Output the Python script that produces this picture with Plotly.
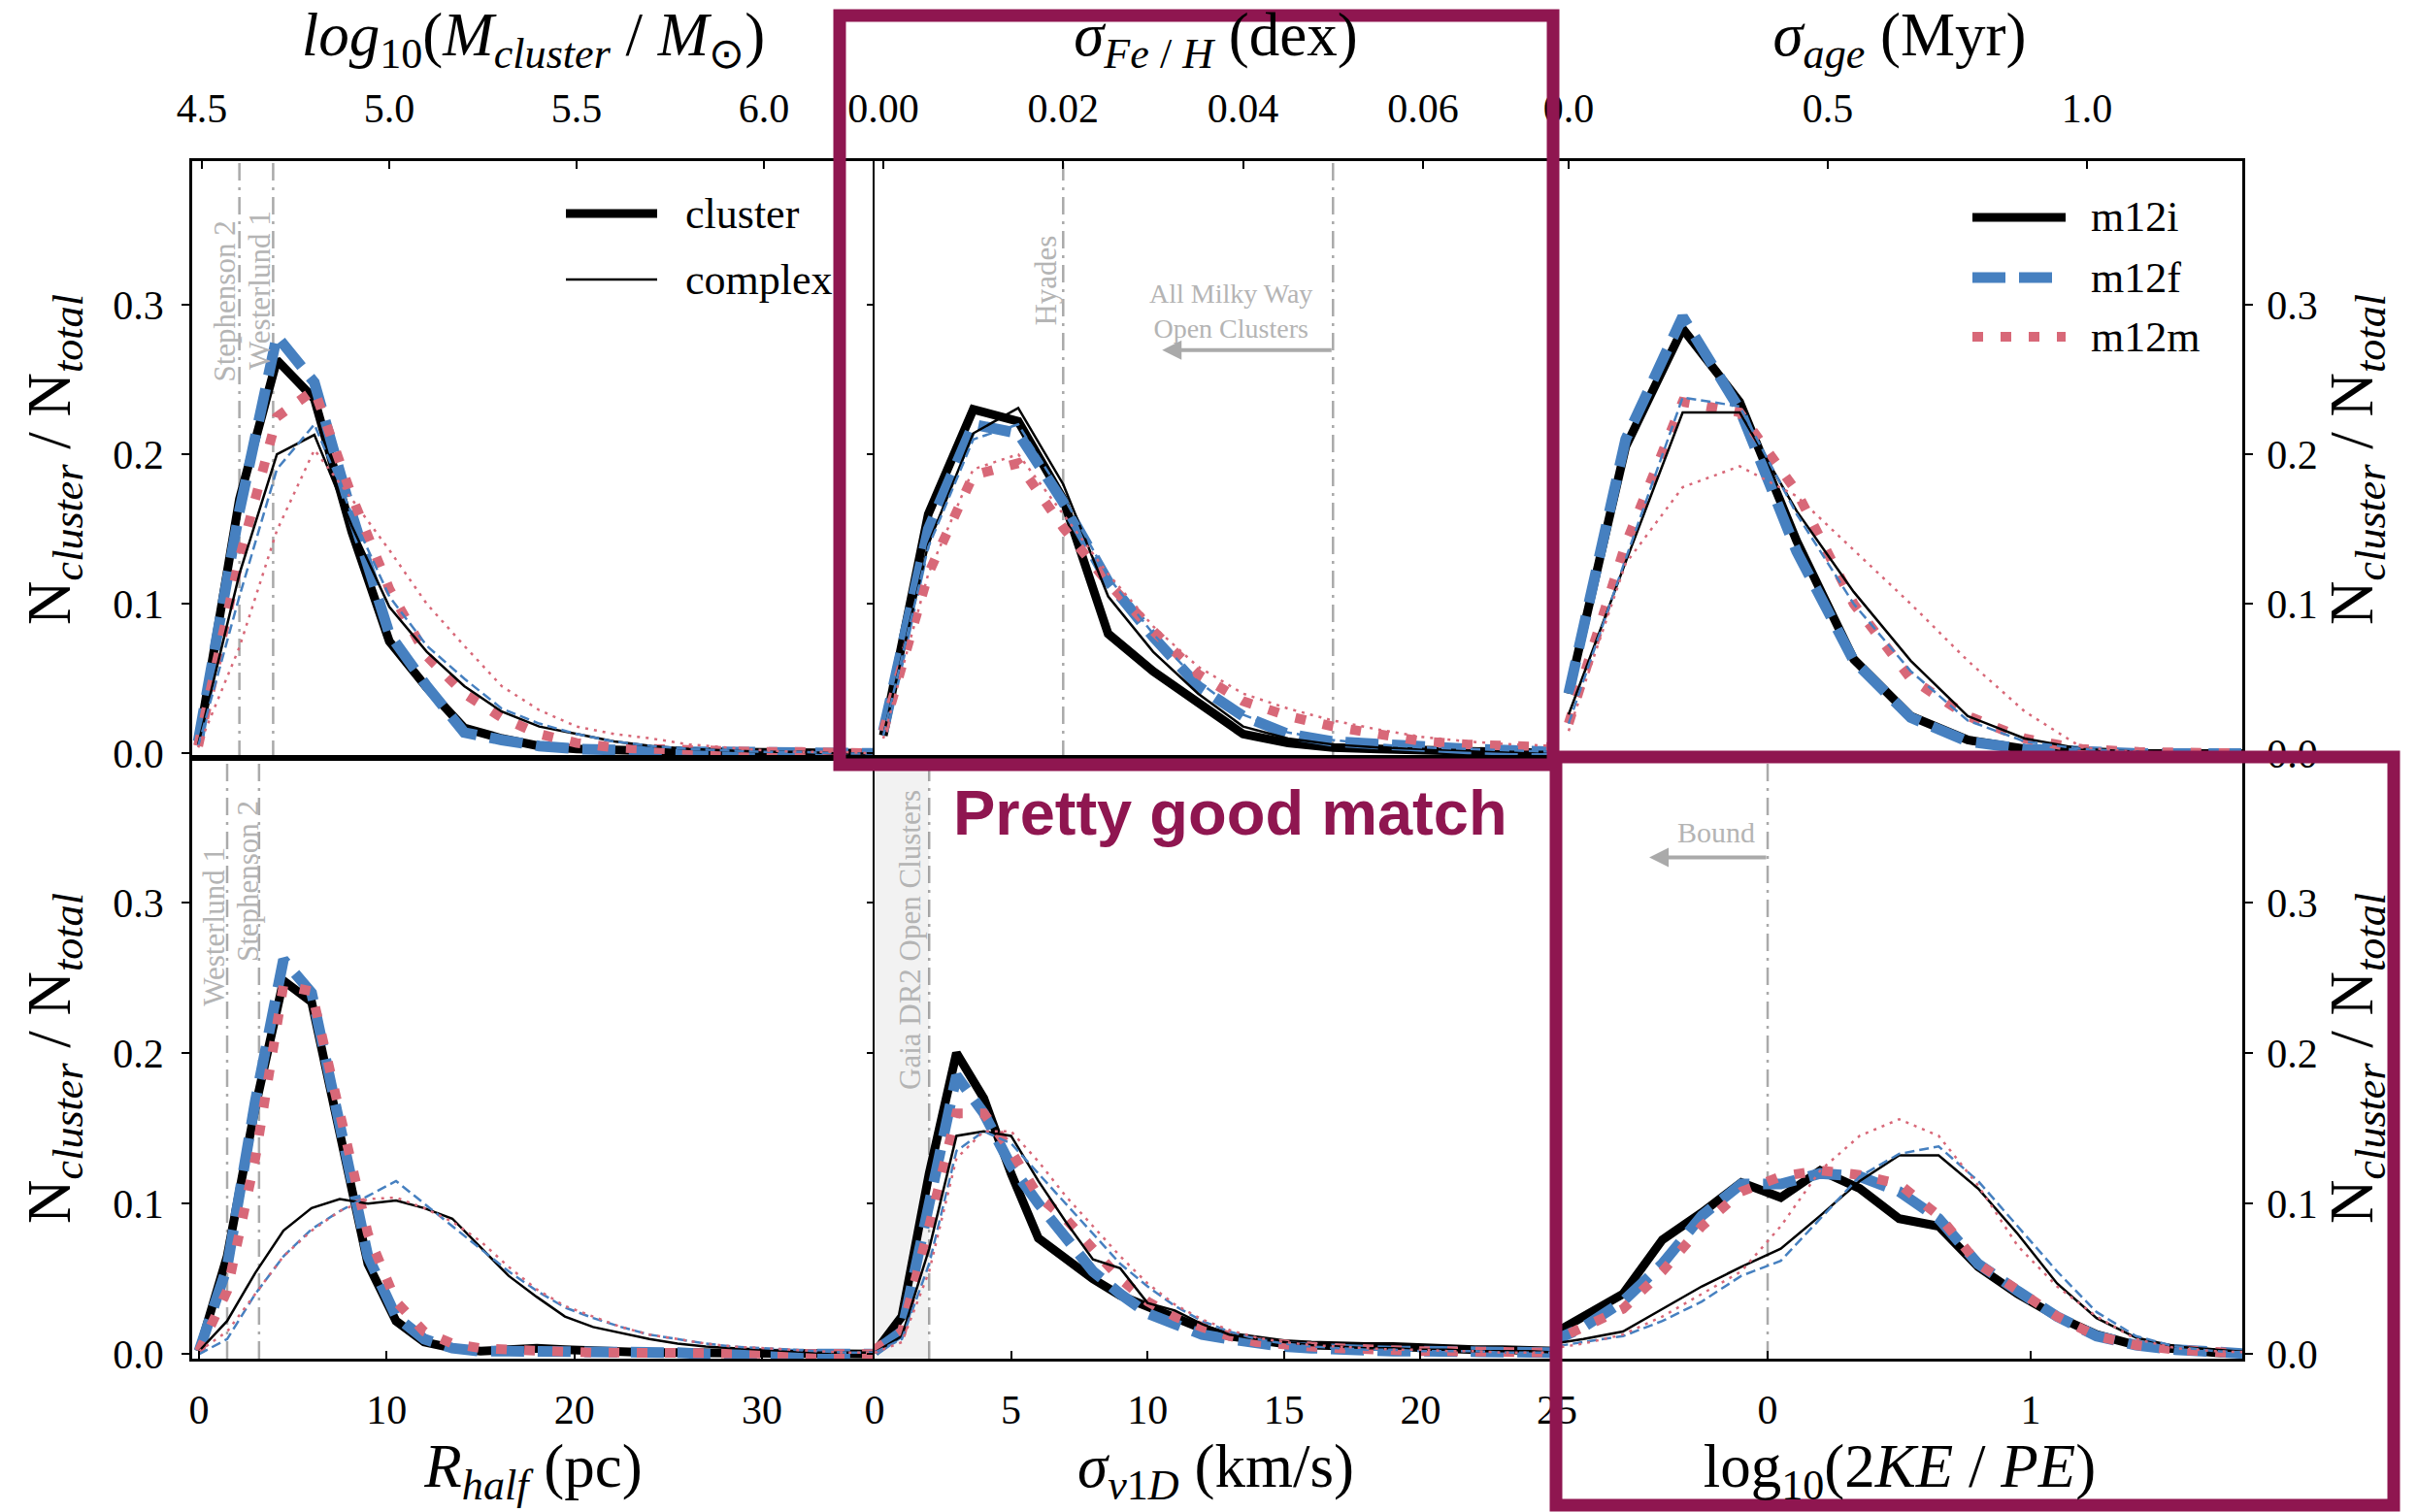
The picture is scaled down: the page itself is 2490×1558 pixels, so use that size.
import plotly.graph_objects as go

# ---------------- data ----------------
# Panel 1: log10(M_cluster / M_sun)
logm_x = [4.49, 4.6, 4.7, 4.8, 4.9, 5.0, 5.1, 5.2, 5.3, 5.4, 5.5, 5.6, 5.7, 5.8, 5.9, 6.0, 6.1, 6.2, 6.3]
logm_m12i_cl = [0.006, 0.170, 0.263, 0.237, 0.148, 0.075, 0.044, 0.017, 0.010, 0.005, 0.003, 0.002, 0.002, 0.001, 0.001, 0.001, 0.001, 0.000, 0.000]
logm_m12f_cl = [0.008, 0.162, 0.279, 0.248, 0.160, 0.080, 0.045, 0.014, 0.009, 0.005, 0.003, 0.002, 0.002, 0.001, 0.001, 0.001, 0.000, 0.000, 0.000]
logm_m12m_cl = [0.005, 0.130, 0.225, 0.243, 0.172, 0.110, 0.065, 0.040, 0.024, 0.013, 0.007, 0.004, 0.003, 0.002, 0.002, 0.001, 0.001, 0.001, 0.000]
logm_m12i_cx = [0.006, 0.120, 0.200, 0.213, 0.152, 0.098, 0.068, 0.045, 0.028, 0.018, 0.013, 0.008, 0.005, 0.003, 0.002, 0.001, 0.001, 0.000, 0.000]
logm_m12f_cx = [0.005, 0.105, 0.190, 0.220, 0.160, 0.105, 0.072, 0.050, 0.030, 0.020, 0.013, 0.008, 0.005, 0.003, 0.002, 0.001, 0.001, 0.000, 0.000]
logm_m12m_cx = [0.004, 0.071, 0.149, 0.203, 0.170, 0.136, 0.100, 0.072, 0.045, 0.029, 0.018, 0.013, 0.010, 0.006, 0.004, 0.002, 0.001, 0.001, 0.000]

# Panel 2: sigma_Fe/H (dex)
feh_x = [0.0, 0.005, 0.01, 0.015, 0.02, 0.025, 0.03, 0.035, 0.04, 0.045, 0.05, 0.055, 0.06, 0.065, 0.07, 0.075]
feh_m12i_cl = [0.012, 0.160, 0.230, 0.222, 0.170, 0.080, 0.055, 0.034, 0.013, 0.007, 0.004, 0.003, 0.002, 0.001, 0.001, 0.000]
feh_m12f_cl = [0.015, 0.150, 0.220, 0.214, 0.168, 0.115, 0.078, 0.045, 0.025, 0.013, 0.008, 0.006, 0.004, 0.003, 0.002, 0.001]
feh_m12m_cl = [0.015, 0.120, 0.186, 0.194, 0.151, 0.114, 0.082, 0.053, 0.035, 0.025, 0.018, 0.013, 0.008, 0.006, 0.005, 0.004]
feh_m12i_cx = [0.012, 0.140, 0.214, 0.231, 0.180, 0.105, 0.068, 0.040, 0.018, 0.010, 0.006, 0.004, 0.003, 0.002, 0.001, 0.001]
feh_m12f_cx = [0.012, 0.138, 0.210, 0.220, 0.172, 0.118, 0.080, 0.048, 0.026, 0.014, 0.009, 0.006, 0.004, 0.003, 0.002, 0.001]
feh_m12m_cx = [0.010, 0.120, 0.190, 0.200, 0.160, 0.120, 0.085, 0.058, 0.040, 0.030, 0.022, 0.016, 0.011, 0.008, 0.006, 0.005]

# Panel 3: sigma_age (Myr)
age_x = [0.0, 0.11, 0.22, 0.33, 0.44, 0.55, 0.66, 0.77, 0.88, 0.99, 1.10, 1.21, 1.32]
age_m12i_cl = [0.040, 0.205, 0.284, 0.235, 0.142, 0.063, 0.025, 0.009, 0.003, 0.001, 0.000, 0.000, 0.000]
age_m12f_cl = [0.040, 0.210, 0.292, 0.230, 0.135, 0.062, 0.024, 0.008, 0.003, 0.001, 0.000, 0.000, 0.000]
age_m12m_cl = [0.020, 0.140, 0.235, 0.228, 0.175, 0.100, 0.050, 0.025, 0.010, 0.003, 0.001, 0.000, 0.000]
age_m12i_cx = [0.026, 0.128, 0.228, 0.228, 0.162, 0.108, 0.062, 0.025, 0.010, 0.003, 0.001, 0.000, 0.000]
age_m12f_cx = [0.020, 0.130, 0.238, 0.232, 0.160, 0.100, 0.055, 0.022, 0.008, 0.003, 0.001, 0.000, 0.000]
age_m12m_cx = [0.015, 0.127, 0.178, 0.192, 0.172, 0.136, 0.100, 0.062, 0.028, 0.004, 0.001, 0.000, 0.000]

# Panel 4: R_half (pc)
rh_x = [0, 1.5, 3.0, 4.5, 6.0, 7.5, 9.0, 10.5, 12.0, 13.5, 15.0, 16.5, 18.0, 19.5, 21.0, 22.5, 24.0, 25.5, 27.0, 28.5, 30.0, 31.5, 33.0, 34.5, 36.0]
rh_m12i_cl = [0.002, 0.065, 0.164, 0.248, 0.234, 0.147, 0.060, 0.022, 0.008, 0.004, 0.002, 0.003, 0.004, 0.003, 0.002, 0.001, 0.001, 0.001, 0.001, 0.000, 0.000, 0.000, 0.000, 0.000, 0.000]
rh_m12f_cl = [0.002, 0.058, 0.168, 0.262, 0.240, 0.150, 0.065, 0.025, 0.010, 0.004, 0.002, 0.002, 0.002, 0.002, 0.001, 0.001, 0.001, 0.001, 0.000, 0.000, 0.000, 0.000, 0.000, 0.000, 0.000]
rh_m12m_cl = [0.002, 0.042, 0.130, 0.245, 0.241, 0.160, 0.080, 0.035, 0.015, 0.007, 0.004, 0.003, 0.002, 0.002, 0.001, 0.001, 0.001, 0.001, 0.001, 0.000, 0.000, 0.000, 0.000, 0.000, 0.000]
rh_m12i_cx = [0.002, 0.022, 0.054, 0.082, 0.097, 0.103, 0.100, 0.102, 0.097, 0.090, 0.071, 0.052, 0.038, 0.025, 0.018, 0.014, 0.010, 0.007, 0.005, 0.004, 0.003, 0.002, 0.001, 0.001, 0.001]
rh_m12f_cx = [0.000, 0.010, 0.040, 0.065, 0.083, 0.095, 0.105, 0.115, 0.100, 0.085, 0.070, 0.055, 0.042, 0.031, 0.024, 0.018, 0.013, 0.010, 0.007, 0.005, 0.004, 0.003, 0.002, 0.001, 0.001]
rh_m12m_cx = [0.002, 0.015, 0.040, 0.065, 0.082, 0.095, 0.103, 0.104, 0.097, 0.088, 0.075, 0.058, 0.043, 0.032, 0.025, 0.018, 0.013, 0.010, 0.007, 0.005, 0.004, 0.003, 0.002, 0.001, 0.001]

# Panel 5: sigma_v1D (km/s)
sv_x = [0, 1, 2, 3, 4, 5, 6, 7, 8, 9, 10, 11, 12, 13, 14, 15, 16, 17, 18, 19, 20, 21, 22, 23, 24, 25]
sv_m12i_cl = [0.001, 0.025, 0.120, 0.200, 0.170, 0.120, 0.077, 0.063, 0.050, 0.039, 0.032, 0.024, 0.017, 0.012, 0.009, 0.007, 0.006, 0.005, 0.005, 0.005, 0.004, 0.004, 0.003, 0.003, 0.002, 0.002]
sv_m12f_cl = [0.002, 0.015, 0.100, 0.185, 0.160, 0.125, 0.100, 0.078, 0.055, 0.040, 0.027, 0.020, 0.013, 0.010, 0.007, 0.005, 0.004, 0.003, 0.003, 0.002, 0.002, 0.002, 0.001, 0.001, 0.001, 0.001]
sv_m12m_cl = [0.003, 0.015, 0.085, 0.160, 0.160, 0.135, 0.105, 0.090, 0.070, 0.050, 0.035, 0.025, 0.018, 0.012, 0.008, 0.006, 0.005, 0.004, 0.003, 0.003, 0.002, 0.002, 0.002, 0.001, 0.001, 0.001]
sv_m12i_cx = [0.001, 0.012, 0.070, 0.145, 0.148, 0.145, 0.115, 0.088, 0.063, 0.057, 0.034, 0.029, 0.020, 0.013, 0.010, 0.008, 0.006, 0.005, 0.004, 0.004, 0.003, 0.003, 0.002, 0.002, 0.002, 0.001]
sv_m12f_cx = [0.001, 0.010, 0.060, 0.135, 0.148, 0.140, 0.120, 0.100, 0.080, 0.060, 0.045, 0.032, 0.022, 0.015, 0.010, 0.007, 0.005, 0.004, 0.003, 0.003, 0.002, 0.002, 0.002, 0.001, 0.001, 0.001]
sv_m12m_cx = [0.001, 0.008, 0.055, 0.130, 0.148, 0.148, 0.128, 0.105, 0.085, 0.065, 0.047, 0.033, 0.023, 0.016, 0.011, 0.008, 0.006, 0.005, 0.004, 0.003, 0.003, 0.002, 0.002, 0.001, 0.001, 0.001]

# Panel 6: log10(2KE/PE)
vir_x = [-0.85, -0.7, -0.55, -0.4, -0.25, -0.1, 0.05, 0.2, 0.35, 0.5, 0.65, 0.8, 0.95, 1.1, 1.25, 1.4, 1.55, 1.7, 1.85]
vir_m12i_cl = [0.010, 0.025, 0.040, 0.076, 0.094, 0.114, 0.104, 0.122, 0.110, 0.090, 0.085, 0.058, 0.040, 0.025, 0.013, 0.006, 0.003, 0.001, 0.000]
vir_m12f_cl = [0.006, 0.018, 0.035, 0.060, 0.092, 0.113, 0.113, 0.120, 0.118, 0.108, 0.090, 0.060, 0.042, 0.025, 0.012, 0.006, 0.003, 0.001, 0.000]
vir_m12m_cl = [0.006, 0.018, 0.030, 0.055, 0.085, 0.108, 0.118, 0.122, 0.119, 0.113, 0.092, 0.060, 0.042, 0.025, 0.012, 0.006, 0.003, 0.001, 0.000]
vir_m12i_cx = [0.006, 0.010, 0.015, 0.030, 0.045, 0.058, 0.070, 0.092, 0.115, 0.132, 0.132, 0.110, 0.080, 0.047, 0.024, 0.011, 0.005, 0.003, 0.001]
vir_m12f_cx = [0.004, 0.008, 0.012, 0.022, 0.035, 0.052, 0.062, 0.090, 0.118, 0.133, 0.138, 0.115, 0.085, 0.055, 0.028, 0.012, 0.005, 0.002, 0.001]
vir_m12m_cx = [0.003, 0.007, 0.013, 0.025, 0.040, 0.055, 0.085, 0.122, 0.145, 0.156, 0.145, 0.112, 0.072, 0.045, 0.025, 0.010, 0.004, 0.002, 0.001]

y_ticks = [0.0, 0.1, 0.2, 0.3]
sim_names = ["m12i", "m12f", "m12m"]
kind_names = ["cluster", "complex"]

# reference markers: (panel, x value, label)
ref_lines = [
    (1, 4.6, "Stephenson 2"), (1, 4.69, "Westerlund 1"),
    (2, 0.02, "Hyades"), (2, 0.05, ""),
    (4, 1.5, "Westerlund 1"), (4, 3.2, "Stephenson 2"),
    (5, 2.0, "Gaia DR2 Open Clusters"),
    (6, 0.0, ""),
]

# ---------------- figure ----------------
W, H = 2490, 1558
ML, MR, MT, MB = 198, 180, 166, 158
PW, PH = W - ML - MR, H - MT - MB


def px(xp):
    return (xp - ML) / PW


def py(yp):
    return (H - MB - yp) / PH


BLACK = "#000000"
BLUE = "#4680c0"
PINK = "#d86878"
GREY = "#aaaaaa"
GREYTXT = "#b4b4b4"
MAG = "#8f1650"
SERIF = "Liberation Serif"
TICK_SIZE = 42
TITLE_SIZE = 63

style = {
    ("m12i", "cluster"): dict(color=BLACK, width=9, dash="solid"),
    ("m12f", "cluster"): dict(color=BLUE, width=11, dash="34px,14px"),
    ("m12m", "cluster"): dict(color=PINK, width=10, dash="11px,18px"),
    ("m12i", "complex"): dict(color=BLACK, width=2.5, dash="solid"),
    ("m12f", "complex"): dict(color=BLUE, width=2.5, dash="10px,5px"),
    ("m12m", "complex"): dict(color=PINK, width=2.5, dash="3px,6px"),
}

panels = [
    (logm_x, {("m12i", "cluster"): logm_m12i_cl, ("m12f", "cluster"): logm_m12f_cl, ("m12m", "cluster"): logm_m12m_cl,
              ("m12i", "complex"): logm_m12i_cx, ("m12f", "complex"): logm_m12f_cx, ("m12m", "complex"): logm_m12m_cx}),
    (feh_x, {("m12i", "cluster"): feh_m12i_cl, ("m12f", "cluster"): feh_m12f_cl, ("m12m", "cluster"): feh_m12m_cl,
             ("m12i", "complex"): feh_m12i_cx, ("m12f", "complex"): feh_m12f_cx, ("m12m", "complex"): feh_m12m_cx}),
    (age_x, {("m12i", "cluster"): age_m12i_cl, ("m12f", "cluster"): age_m12f_cl, ("m12m", "cluster"): age_m12m_cl,
             ("m12i", "complex"): age_m12i_cx, ("m12f", "complex"): age_m12f_cx, ("m12m", "complex"): age_m12m_cx}),
    (rh_x, {("m12i", "cluster"): rh_m12i_cl, ("m12f", "cluster"): rh_m12f_cl, ("m12m", "cluster"): rh_m12m_cl,
            ("m12i", "complex"): rh_m12i_cx, ("m12f", "complex"): rh_m12f_cx, ("m12m", "complex"): rh_m12m_cx}),
    (sv_x, {("m12i", "cluster"): sv_m12i_cl, ("m12f", "cluster"): sv_m12f_cl, ("m12m", "cluster"): sv_m12m_cl,
            ("m12i", "complex"): sv_m12i_cx, ("m12f", "complex"): sv_m12f_cx, ("m12m", "complex"): sv_m12m_cx}),
    (vir_x, {("m12i", "cluster"): vir_m12i_cl, ("m12f", "cluster"): vir_m12f_cl, ("m12m", "cluster"): vir_m12m_cl,
             ("m12i", "complex"): vir_m12i_cx, ("m12f", "complex"): vir_m12f_cx, ("m12m", "complex"): vir_m12m_cx}),
]

fig = go.Figure()
for i, (xv, series) in enumerate(panels, start=1):
    sfx = "" if i == 1 else str(i)
    for kind in kind_names:
        for sim in sim_names:
            fig.add_trace(go.Scatter(
                x=xv, y=series[(sim, kind)], mode="lines",
                line=style[(sim, kind)], name=f"{sim} {kind}",
                xaxis="x" + sfx, yaxis="y" + sfx, showlegend=False, hoverinfo="skip"))

c1 = (901 - ML) / PW
c2 = (1604 - ML) / PW
rmid = (H - MB - 781) / PH
col_dom = [[0, c1], [c1, c2], [c2, 1]]
row_dom = [[rmid, 1], [0, rmid]]

x_specs = [
    dict(range=[4.474, 6.295], tickvals=[4.5, 5.0, 5.5, 6.0], tickformat=".1f",
         title="<i>log</i><sub>10</sub>(<i>M</i><sub><i>cluster</i></sub> / <i>M</i><sub>⊙</sub>)"),
    dict(range=[-0.00097, 0.0749], tickvals=[0.0, 0.02, 0.04, 0.06], tickformat=".2f",
         title="<i>σ</i><sub><i>Fe</i> / <i>H</i></sub> (dex)"),
    dict(range=[-0.0225, 1.2996], tickvals=[0.0, 0.5, 1.0], tickformat=".1f",
         title="<i>σ</i><sub><i>age</i></sub> (Myr)"),
    dict(range=[-0.362, 36.0], tickvals=[0, 10, 20, 30], tickformat="d",
         title="<i>R</i><sub><i>half</i></sub> (pc)"),
    dict(range=[0, 25], tickvals=[0, 5, 10, 15, 20, 25], tickformat="d",
         title="<i>σ</i><sub><i>v</i>1<i>D</i></sub> (km/s)"),
    dict(range=[-0.8007, 1.804], tickvals=[0, 1], tickformat="d",
         title="log<sub>10</sub>(2<i>KE</i> / <i>PE</i>)"),
]

ytitle = "N<sub><i>cluster</i></sub> / N<sub><i>total</i></sub>"
layout_axes = {}
for i in range(1, 7):
    sfx = "" if i == 1 else str(i)
    col = (i - 1) % 3
    row = (i - 1) // 3
    xs = x_specs[i - 1]
    layout_axes["xaxis" + sfx] = dict(
        domain=col_dom[col], range=xs["range"], anchor="y" + sfx,
        side="top" if row == 0 else "bottom",
        tickvals=xs["tickvals"], tickformat=xs["tickformat"],
        ticks="inside", ticklen=8, tickwidth=2, tickcolor=BLACK,
        ticklabelstandoff=20 if row == 0 else 14,
        tickfont=dict(family=SERIF, size=TICK_SIZE, color=BLACK),
        showline=True, linecolor=BLACK, linewidth=2.5, mirror=True,
        showgrid=False, zeroline=False,
        title=dict(text=xs["title"], font=dict(family=SERIF, size=TITLE_SIZE, color=BLACK),
                   standoff=12 if row == 0 else 3),
    )
    yax = dict(
        domain=row_dom[row], range=[-0.003, 0.396], anchor="x" + sfx,
        tickvals=y_ticks, tickformat=".1f",
        ticks="outside", ticklen=8, tickwidth=2, tickcolor=BLACK,
        tickfont=dict(family=SERIF, size=TICK_SIZE, color=BLACK),
        showline=True, linecolor=BLACK, linewidth=2.5,
        showgrid=False, zeroline=False,
    )
    if col == 0:
        yax.update(side="left", showticklabels=True, ticklabelstandoff=10, mirror=False,
                   title=dict(text=ytitle, font=dict(family=SERIF, size=TITLE_SIZE, color=BLACK), standoff=24))
    elif col == 2:
        yax.update(side="right", showticklabels=True, ticklabelstandoff=6, mirror=True,
                   title=dict(text=ytitle, font=dict(family=SERIF, size=TITLE_SIZE, color=BLACK), standoff=12))
    else:
        yax.update(showticklabels=False, ticklen=6, mirror=False, linewidth=2)
    layout_axes["yaxis" + sfx] = yax

shapes = []
annotations = []

# grey reference lines and labels
label_pos = {  # (panel, x): (y of label centre, xshift)
    (1, 4.6): (0.302, -15), (1, 4.69): (0.310, -14),
    (2, 0.02): (0.316, -18),
    (4, 1.5): (0.284, -13), (4, 3.2): (0.314, -12),
    (5, 2.0): (0.275, -20),
}
for (p, xv, lab) in ref_lines:
    sfx = "" if p == 1 else str(p)
    shapes.append(dict(type="line", xref="x" + sfx, yref="y" + sfx + " domain",
                       x0=xv, x1=xv, y0=0, y1=1, layer="below",
                       line=dict(color=GREY, width=2.5, dash="18px,7px,3px,7px")))
    if lab:
        yy, sh = label_pos[(p, xv)]
        annotations.append(dict(x=xv, y=yy, xref="x" + sfx, yref="y" + sfx, text=lab,
                                textangle=-90, showarrow=False, xshift=sh,
                                xanchor="center", yanchor="middle",
                                font=dict(family=SERIF, size=31, color=GREYTXT)))

# Gaia shading
shapes.append(dict(type="rect", xref="x5", yref="y5 domain", x0=0, x1=2.0, y0=0, y1=1,
                   fillcolor="rgba(0,0,0,0.05)", line=dict(width=0), layer="below"))

# "All Milky Way Open Clusters" text + arrow
annotations.append(dict(x=0.0386, y=0.2955, xref="x2", yref="y2",
                        text="All Milky Way<br>Open Clusters", align="center",
                        showarrow=False, xanchor="center", yanchor="middle",
                        font=dict(family=SERIF, size=28, color=GREYTXT)))
annotations.append(dict(x=0.031, y=0.2696, xref="x2", yref="y2", ax=0.05, ay=0.2696,
                        axref="x2", ayref="y2", text="", showarrow=True, arrowhead=2,
                        arrowsize=1, arrowwidth=4, arrowcolor=GREY))
# "Bound" text + arrow
annotations.append(dict(x=-0.196, y=0.347, xref="x6", yref="y6", text="Bound",
                        showarrow=False, font=dict(family=SERIF, size=30, color=GREYTXT)))
annotations.append(dict(x=-0.45, y=0.330, xref="x6", yref="y6", ax=0.0, ay=0.330,
                        axref="x6", ayref="y6", text="", showarrow=True, arrowhead=2,
                        arrowsize=1, arrowwidth=4, arrowcolor=GREY))

# legends (drawn as samples + labels)
leg1 = [(("m12i", "cluster"), "cluster", 220), (("m12i", "complex"), "complex", 288)]
for key, lab, yp in leg1:
    st = style[key]
    shapes.append(dict(type="line", xref="paper", yref="paper", x0=px(583), x1=px(677),
                       y0=py(yp), y1=py(yp), line=dict(color=st["color"], width=st["width"], dash=st["dash"])))
    annotations.append(dict(x=px(704), y=py(yp), xref="paper", yref="paper", text=lab,
                            showarrow=False, xanchor="left", yanchor="middle",
                            font=dict(family=SERIF, size=44, color=BLACK)))
leg2 = [(("m12i", "cluster"), "m12i", 224), (("m12f", "cluster"), "m12f", 286), (("m12m", "cluster"), "m12m", 347)]
for key, lab, yp in leg2:
    st = style[key]
    shapes.append(dict(type="line", xref="paper", yref="paper", x0=px(2032), x1=px(2128),
                       y0=py(yp), y1=py(yp), line=dict(color=st["color"], width=st["width"], dash=st["dash"])))
    annotations.append(dict(x=px(2152), y=py(yp), xref="paper", yref="paper", text=lab,
                            showarrow=False, xanchor="left", yanchor="middle",
                            font=dict(family=SERIF, size=44, color=BLACK)))

# highlight boxes and comment
for (x0, y0, x1, y1) in [(865, 16, 1600, 788), (1603, 780, 2466, 1551)]:
    shapes.append(dict(type="rect", xref="paper", yref="paper", x0=px(x0), x1=px(x1),
                       y0=py(y1), y1=py(y0), layer="above",
                       line=dict(color=MAG, width=13)))
annotations.append(dict(x=px(1267), y=py(838), xref="paper", yref="paper",
                        text="<b>Pretty good match</b>", showarrow=False,
                        xanchor="center", yanchor="middle",
                        font=dict(family="Liberation Sans", size=65, color=MAG)))

fig.update_layout(
    width=W, height=H, autosize=False,
    margin=dict(l=ML, r=MR, t=MT, b=MB, pad=0),
    paper_bgcolor="white", plot_bgcolor="white",
    font=dict(family=SERIF, color=BLACK, size=40),
    shapes=shapes, annotations=annotations, showlegend=False,
    **layout_axes,
)

fig.write_html("out.html")
